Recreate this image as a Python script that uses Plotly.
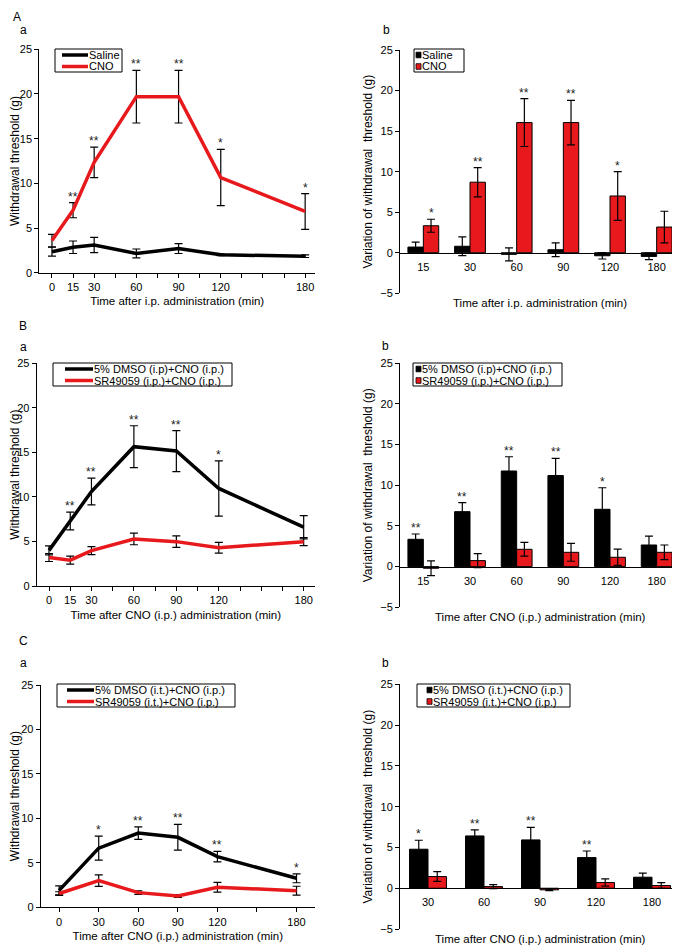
import plotly.graph_objects as go

RED = "#e8191c"
FONT = "Liberation Sans, Arial, sans-serif"

# A  -  i.p. saline / CNO
a_time = [0, 15, 30, 60, 90, 120, 180]
a_saline = [2.35, 2.85, 3.1, 2.15, 2.7, 2.0, 1.85]
a_saline_err = [0.5, 0.7, 0.85, 0.5, 0.55, 0.1, 0.15]
a_cno = [3.6, 7.0, 12.35, 19.7, 19.7, 10.65, 6.85]
a_cno_err = [0.7, 0.85, 1.7, 2.95, 2.95, 3.15, 2.0]
a_sig = ["", "**", "**", "**", "**", "*", "*"]

ab_cat = ["15", "30", "60", "90", "120", "180"]
ab_saline = [0.7, 0.8, -0.2, 0.37, -0.37, -0.45]
ab_saline_err = [0.6, 1.15, 0.8, 0.85, 0.4, 0.4]
ab_cno = [3.33, 8.7, 16.05, 16.05, 7.0, 3.17]
ab_cno_err = [0.8, 1.8, 2.95, 2.75, 3.0, 1.95]
ab_sig = ["*", "**", "**", "**", "*", ""]

# B  -  SR49059 i.p.
b_time = [0, 15, 30, 60, 90, 120, 180]
b_dmso = [4.0, 7.3, 10.6, 15.64, 15.15, 10.95, 6.6]
b_dmso_err = [0.5, 1.0, 1.5, 2.35, 2.3, 3.1, 1.3]
b_sr = [3.2, 2.9, 3.97, 5.28, 4.98, 4.3, 4.98]
b_sr_err = [0.45, 0.45, 0.45, 0.65, 0.65, 0.6, 0.45]
b_sig = ["", "**", "**", "**", "**", "*", ""]

bb_cat = ["15", "30", "60", "90", "120", "180"]
bb_dmso = [3.36, 6.76, 11.76, 11.2, 7.05, 2.66]
bb_dmso_err = [0.65, 1.1, 1.75, 2.1, 2.65, 1.1]
bb_sr = [-0.2, 0.74, 2.13, 1.76, 1.15, 1.76]
bb_sr_err = [0.9, 0.85, 0.85, 1.1, 1.0, 0.9]
bb_sig = ["**", "**", "**", "**", "*", ""]

# C  -  SR49059 i.t.
c_time = [0, 30, 60, 90, 120, 180]
c_dmso = [1.9, 6.65, 8.35, 7.87, 5.7, 3.26]
c_dmso_err = [0.5, 1.35, 0.7, 1.45, 0.6, 0.5]
c_sr = [1.55, 3.0, 1.65, 1.27, 2.25, 1.87]
c_sr_err = [0.2, 0.65, 0.2, 0.15, 0.55, 0.5]
c_sig = ["", "*", "**", "**", "**", "*"]

cb_cat = ["30", "60", "90", "120", "180"]
cb_dmso = [4.78, 6.41, 5.92, 3.76, 1.35]
cb_dmso_err = [1.1, 0.75, 1.55, 0.8, 0.5]
cb_sr = [1.43, 0.2, -0.2, 0.7, 0.33]
cb_sr_err = [0.6, 0.25, 0.1, 0.45, 0.35]
cb_sig = ["*", "**", "**", "**", ""]

names_a = ["Saline", "CNO"]
names_b = ["5% DMSO (i.p)+CNO (i.p.)", "SR49059 (i.p.)+CNO (i.p.)"]
names_c = ["5% DMSO (i.t.)+CNO (i.p.)", "SR49059 (i.t.)+CNO (i.p.)"]

# page body keeps its default 8px margin, so the figure is shrunk by that much
OFF = 8
W, H = 680 - OFF, 945 - OFF
BARGAP = 0.34
fig = go.Figure()


def px_x(p):
    return (p - OFF) / W


def px_y(p):
    return 1 - (p - OFF) / H


def errbar(e):
    return dict(type="data", array=e, color="black", thickness=1.2, width=4)


def ax_common():
    return dict(showline=True, linecolor="black", linewidth=1, showgrid=False, zeroline=False,
                automargin=False, tickfont=dict(size=11), tickcolor="black")


def line_panel(n, t, s1, e1, s2, e2, names, sig, xdom, ydom, xrng, step, xtitle):
    sfx = str(n) if n > 1 else ""
    xa, ya = "x" + sfx, "y" + sfx
    for s, e, nm, c in [(s1, e1, names[0], "black"), (s2, e2, names[1], RED)]:
        fig.add_trace(go.Scatter(x=t, y=s, error_y=errbar(e), mode="lines", name=nm,
                                 line=dict(color=c, width=3.5), xaxis=xa, yaxis=ya,
                                 showlegend=False))
    top = [max(a + b, c + d) for a, b, c, d in zip(s1, e1, s2, e2)]
    for xi, yi, st in zip(t, top, sig):
        if st:
            fig.add_annotation(x=xi, y=yi, xref=xa, yref=ya, text=st, showarrow=False,
                               yanchor="bottom", yshift=-3, font=dict(size=12, color="#222"))
    tv = list(range(0, 181, step))
    tt = [str(v) if v in t else "" for v in tv]
    fig.update_layout(**{
        "xaxis" + sfx: dict(domain=xdom, range=xrng, anchor=ya, tickvals=tv, ticktext=tt,
                            ticks="outside", ticklen=4,
                            title=dict(text=xtitle, standoff=5, font=dict(size=11.5)),
                            **ax_common()),
        "yaxis" + sfx: dict(domain=ydom, range=[0, 25], dtick=5, anchor=xa, ticks="outside",
                            ticklen=4,
                            title=dict(text="Withdrawal threshold (g)", standoff=5,
                                       font=dict(size=12)), **ax_common()),
    })


def bar_panel(n, cat, s1, e1, s2, e2, names, sig, xdom, ydom, xtitle):
    xa, ya = "x" + str(n), "y" + str(n)
    fig.add_trace(go.Bar(x=cat, y=s1, error_y=errbar(e1), name=names[0],
                         marker=dict(color="black", line=dict(color="black", width=1)),
                         xaxis=xa, yaxis=ya, showlegend=False))
    fig.add_trace(go.Bar(x=cat, y=s2, error_y=errbar(e2), name=names[1],
                         marker=dict(color=RED, line=dict(color="black", width=1)),
                         xaxis=xa, yaxis=ya, showlegend=False))
    top1 = [a + b for a, b in zip(s1, e1)]
    top2 = [a + b for a, b in zip(s2, e2)]
    spacing = (xdom[1] - xdom[0]) * W / len(cat)
    half = spacing * (1 - BARGAP) / 4
    # stars sit on the higher bar of each pair
    for i, st in enumerate(sig):
        if st:
            hi = top1[i] >= top2[i]
            fig.add_annotation(x=i, y=max(top1[i], top2[i]), xref=xa, yref=ya, text=st,
                               showarrow=False, yanchor="bottom", yshift=-3,
                               xshift=-half if hi else half, font=dict(size=12, color="#222"))
    zero = ydom[0] + (ydom[1] - ydom[0]) * 5 / 30
    fig.update_layout(**{
        "xaxis" + str(n): dict(domain=xdom, type="category", range=[-0.5, len(cat) - 0.5],
                               anchor="free", position=zero, ticks="", ticklabelstandoff=4,
                               **ax_common()),
        "yaxis" + str(n): dict(domain=ydom, range=[-5, 25], dtick=5, anchor=xa, ticks="outside",
                               ticklen=4,
                               title=dict(text="Variation of withdrawal  threshold (g)",
                                          standoff=5, font=dict(size=12)), **ax_common()),
    })
    fig.add_annotation(x=0.5, y=0, xref=xa + " domain", yref=ya + " domain", text=xtitle,
                       showarrow=False, yanchor="top", yshift=-2, font=dict(size=11.5))


def legend_box(box, y0, names, sym, text_x, kind):
    fig.add_shape(type="rect", xref="paper", yref="paper", x0=px_x(box[0]), x1=px_x(box[1]),
                  y0=px_y(y0 + 23), y1=px_y(y0), line=dict(color="black", width=1),
                  fillcolor="white", layer="above")
    for i, (nm, c) in enumerate(zip(names, ["black", RED])):
        yc = y0 + 6 + 11.5 * i
        if kind == "line":
            fig.add_shape(type="line", xref="paper", yref="paper", x0=px_x(sym[0]),
                          x1=px_x(sym[1]), y0=px_y(yc), y1=px_y(yc),
                          line=dict(color=c, width=3.5), layer="above")
        else:
            fig.add_shape(type="rect", xref="paper", yref="paper", x0=px_x(sym[0]),
                          x1=px_x(sym[1]), y0=px_y(yc + 2.8), y1=px_y(yc - 2.8),
                          line=dict(color="black", width=0.8), fillcolor=c, layer="above")
        fig.add_annotation(x=px_x(text_x), y=px_y(yc), xref="paper", yref="paper", text=nm,
                           showarrow=False, xanchor="left", yanchor="middle",
                           font=dict(size=11), xshift=-2)


xt_ip = "Time after i.p. administration (min)"
xt_cno = "Time after CNO (i.p.) administration (min)"

line_panel(1, a_time, a_saline, a_saline_err, a_cno, a_cno_err, names_a, a_sig,
           [px_x(39.3), px_x(315)], [px_y(272.7), px_y(49.3)], [-9, 187], 15, xt_ip)
bar_panel(2, ab_cat, ab_saline, ab_saline_err, ab_cno, ab_cno_err, names_a, ab_sig,
          [px_x(400), 1.0], [px_y(293.3), px_y(50)], xt_ip)
line_panel(3, b_time, b_dmso, b_dmso_err, b_sr, b_sr_err, names_b, b_sig,
           [px_x(36.7), px_x(315)], [px_y(586), px_y(363.3)], [-8.7, 188], 15, xt_cno)
bar_panel(4, bb_cat, bb_dmso, bb_dmso_err, bb_sr, bb_sr_err, names_b, bb_sig,
          [px_x(400), 1.0], [px_y(607.3), px_y(363.3)], xt_cno)
line_panel(5, c_time, c_dmso, c_dmso_err, c_sr, c_sr_err, names_c, c_sig,
           [px_x(40.7), px_x(315)], [px_y(907.3), px_y(685)], [-14, 194], 30, xt_cno)
bar_panel(6, cb_cat, cb_dmso, cb_dmso_err, cb_sr, cb_sr_err, names_c, cb_sig,
          [px_x(400), 1.0], [px_y(929), px_y(684.3)], xt_cno)

legend_box((55, 122), 49, names_a, (62, 88), 89, "line")
legend_box((414, 464), 49, names_a, (416, 421), 422, "bar")
legend_box((53, 232), 363, names_b, (65, 93), 94, "line")
legend_box((413, 562), 363, names_b, (416, 421), 422, "bar")
legend_box((57, 235), 684, names_c, (67, 94), 95, "line")
legend_box((417, 570), 684, names_c, (427, 432), 433, "bar")

labels = [("A", 11, 8), ("a", 18, 21), ("b", 381, 21), ("B", 17, 317), ("a", 18, 338),
          ("b", 380, 337), ("C", 17, 632), ("a", 18, 654), ("b", 380, 654)]
for txt, lx, ly in labels:
    fig.add_annotation(x=px_x(lx), y=px_y(ly), xref="paper", yref="paper", text=txt,
                       showarrow=False, xanchor="left", yanchor="top", font=dict(size=12))

fig.update_layout(template="none", width=W, height=H, margin=dict(l=0, r=0, t=0, b=0),
                  barmode="group", bargap=BARGAP, bargroupgap=0, showlegend=False,
                  paper_bgcolor="white", plot_bgcolor="white",
                  font=dict(family=FONT, size=11, color="black"))

fig.write_html("out.html")
